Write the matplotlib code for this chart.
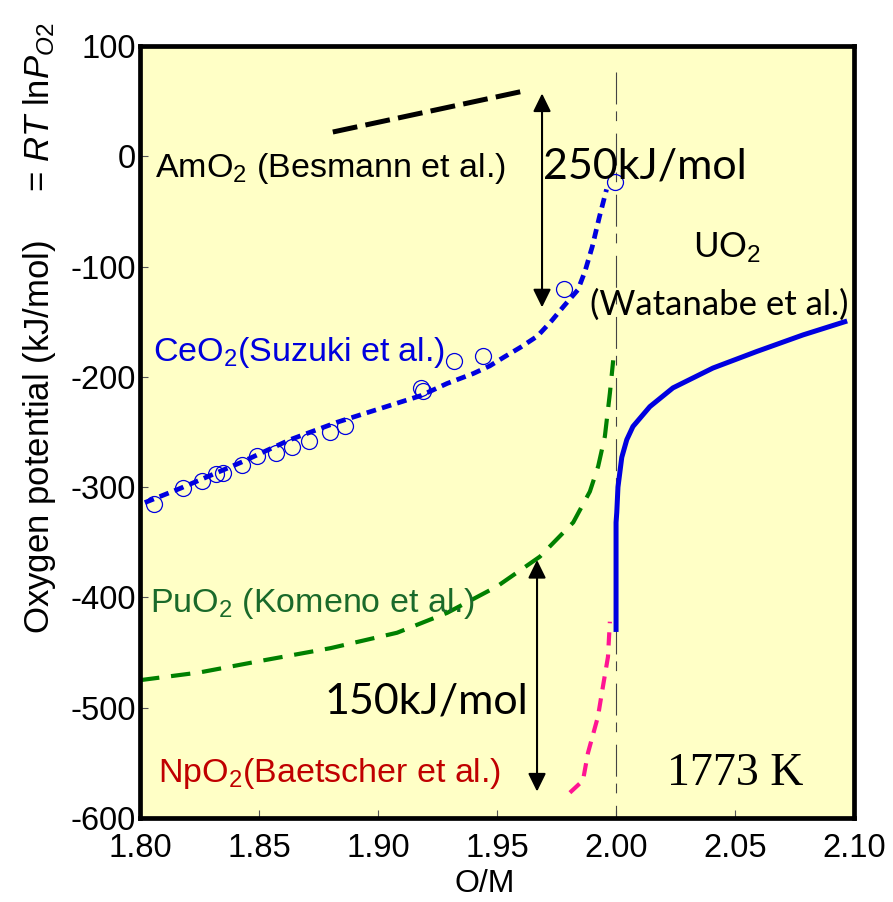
import matplotlib
matplotlib.use('Agg')
import matplotlib.pyplot as plt

plt.rcParams['font.family'] = ['Liberation Sans', 'DejaVu Sans']
plt.rcParams['mathtext.fontset'] = 'custom'
plt.rcParams['mathtext.rm'] = 'Liberation Sans'
plt.rcParams['mathtext.it'] = 'Liberation Sans:italic'
plt.rcParams['lines.scale_dashes'] = False
plt.rcParams['axes.unicode_minus'] = False

# ---- data ----
am_x = [1.881, 1.963]
am_y = [22, 60]

ce_line_x = [1.802, 1.817, 1.843, 1.863, 1.883, 1.918, 1.929, 1.940, 1.947, 1.953,
             1.960, 1.967, 1.973, 1.978, 1.984, 1.987, 1.990, 1.993, 1.996]
ce_line_y = [-314, -301, -277, -257, -241, -217, -206, -197, -190, -182,
             -173, -163, -149, -136, -121, -104, -82, -55, -30]

ce_pts_x = [1.806, 1.818, 1.826, 1.832, 1.835, 1.843, 1.849, 1.857, 1.864, 1.871,
            1.880, 1.886, 1.918, 1.919, 1.932, 1.944, 1.978, 1.9995]
ce_pts_y = [-315, -301, -294, -288, -287, -280, -272, -269, -264, -258,
            -250, -245, -210, -213, -186, -181, -120, -23]

pu_x = [1.800, 1.825, 1.852, 1.880, 1.908, 1.929, 1.950, 1.968, 1.982, 1.989,
        1.9925, 1.9953, 1.9974, 1.9988]
pu_y = [-475, -468, -457, -446, -432, -414, -390, -363, -332, -304,
        -281, -254, -215, -185]

uo_x = [2.000, 2.000, 2.0003, 2.0008, 2.0024, 2.0045, 2.0071, 2.0142, 2.0239,
        2.0407, 2.0591, 2.0785, 2.0961]
uo_y = [-429, -332, -323, -300, -273, -257, -245, -227, -210,
        -192, -177, -162, -150]

np_x = [1.9806, 1.9861, 1.9882, 1.9924, 1.9940, 1.9966, 1.9974]
np_y = [-577, -566, -541, -508, -487, -454, -422]

x_ticks = [1.80, 1.85, 1.90, 1.95, 2.00, 2.05, 2.10]
x_tick_labels = ['1.80', '1.85', '1.90', '1.95', '2.00', '2.05', '2.10']
y_ticks = [100, 0, -100, -200, -300, -400, -500, -600]

fig = plt.figure(figsize=(8.93, 9.02), dpi=100)
ax = fig.add_axes([0.1568, 0.0931, 0.7996, 0.8559])
ax.set_facecolor('#FFFFC6')

# vertical reference at O/M = 2
ax.plot([2.0, 2.0], [76, -600], color='#444444', lw=0.8, dashes=(23, 5, 7, 9))

ax.plot(am_x, am_y, color='black', lw=3.6, dashes=(18, 6))
ax.plot(ce_line_x, ce_line_y, color='#0000E0', lw=3.4, dashes=(7, 4.5))
ax.plot(ce_pts_x, ce_pts_y, 'o', ms=11.5, mfc='none', mec='#0000E0', mew=0.9)
ax.plot(pu_x, pu_y, color='#008000', lw=3.0, dashes=(14, 8.5))
ax.plot(uo_x, uo_y, color='#0000E0', lw=3.6)
ax.plot(np_x, np_y, color='#FF1493', lw=3.0, dashes=(9.5, 6.5))

# arrows
arrow_style = dict(arrowstyle='<|-|>,head_length=0.55,head_width=0.27',
                   mutation_scale=20, color='black', lw=1.5,
                   shrinkA=0, shrinkB=0)
ax.annotate('', xy=(1.9689, 57), xytext=(1.9689, -137), arrowprops=arrow_style)
ax.annotate('', xy=(1.9668, -366), xytext=(1.9668, -576), arrowprops=arrow_style)

# labels
ax.text(1.8063, -19, 'AmO$_2$ (Besmann et al.)', fontsize=24.5, color='black', va='baseline')
ax.text(1.8055, -186, 'CeO$_2$(Suzuki et al.)', fontsize=24.5, color='#0000DD', va='baseline')
ax.text(1.8042, -413, 'PuO$_2$ (Komeno et al.)', fontsize=24.5, color='#1A6A2A', va='baseline')
ax.text(1.8076, -567, 'NpO$_2$(Baetscher et al.)', fontsize=24.5, color='#C00000', va='baseline')
ax.text(1.9693, -20, '250kJ/mol', fontsize=31, family='Lato', va='baseline')
ax.text(1.8777, -505, '150kJ/mol', fontsize=31, family='Lato', va='baseline')
ax.text(2.0323, -92, 'UO$_2$', fontsize=25, family='Lato', va='baseline')
ax.text(1.989, -144, '(Watanabe et al.)', fontsize=25, family='Lato', va='baseline')
ax.text(2.0213, -570, '1773 K', fontsize=33, family='Liberation Serif', va='baseline')

ax.set_xlim(1.80, 2.10)
ax.set_ylim(-600, 100)
ax.set_xticks(x_ticks)
ax.set_xticklabels(x_tick_labels)
ax.set_yticks(y_ticks)
ax.tick_params(direction='in', length=6, width=0.8, color='#555555',
               labelsize=23.5, top=False, right=False)
ax.tick_params(axis='y', pad=3)
ax.tick_params(axis='x', pad=11)
for s in ax.spines.values():
    s.set_linewidth(3.4)

fig.text(485 / 893, 1 - 884 / 902, 'O/M', fontsize=23, ha='center', va='center')
fig.text(40 / 893, 1 - 328 / 902,
         'Oxygen potential (kJ/mol)     = $RT$ ln$P_{O2}$',
         fontsize=25, rotation=90, ha='center', va='center')

fig.savefig('out.png', dpi=100)
